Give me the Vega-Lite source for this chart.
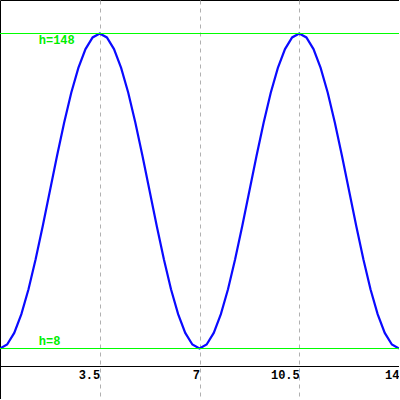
{
  "$schema": "https://vega.github.io/schema/vega-lite/v6.json",
  "width": 399,
  "height": 399,
  "padding": 0,
  "autosize": {"type": "none"},
  "background": "white",
  "config": {"view": {"stroke": "black", "strokeWidth": 1}},
  "datasets": {
    "curve": [
      {"t": 0, "h": 8}, {"t": 0.25, "h": 9.76}, {"t": 0.5, "h": 14.93}, {"t": 0.75, "h": 23.27},
      {"t": 1, "h": 34.36}, {"t": 1.25, "h": 47.63}, {"t": 1.5, "h": 62.42}, {"t": 1.75, "h": 78},
      {"t": 2, "h": 93.58}, {"t": 2.25, "h": 108.37}, {"t": 2.5, "h": 121.64}, {"t": 2.75, "h": 132.73},
      {"t": 3, "h": 141.07}, {"t": 3.25, "h": 146.25}, {"t": 3.5, "h": 148}, {"t": 3.75, "h": 146.25},
      {"t": 4, "h": 141.07}, {"t": 4.25, "h": 132.73}, {"t": 4.5, "h": 121.64}, {"t": 4.75, "h": 108.37},
      {"t": 5, "h": 93.58}, {"t": 5.25, "h": 78}, {"t": 5.5, "h": 62.42}, {"t": 5.75, "h": 47.63},
      {"t": 6, "h": 34.36}, {"t": 6.25, "h": 23.27}, {"t": 6.5, "h": 14.93}, {"t": 6.75, "h": 9.76},
      {"t": 7, "h": 8}, {"t": 7.25, "h": 9.76}, {"t": 7.5, "h": 14.93}, {"t": 7.75, "h": 23.27},
      {"t": 8, "h": 34.36}, {"t": 8.25, "h": 47.63}, {"t": 8.5, "h": 62.42}, {"t": 8.75, "h": 78},
      {"t": 9, "h": 93.58}, {"t": 9.25, "h": 108.37}, {"t": 9.5, "h": 121.64}, {"t": 9.75, "h": 132.73},
      {"t": 10, "h": 141.07}, {"t": 10.25, "h": 146.25}, {"t": 10.5, "h": 148}, {"t": 10.75, "h": 146.25},
      {"t": 11, "h": 141.07}, {"t": 11.25, "h": 132.73}, {"t": 11.5, "h": 121.64}, {"t": 11.75, "h": 108.37},
      {"t": 12, "h": 93.58}, {"t": 12.25, "h": 78}, {"t": 12.5, "h": 62.42}, {"t": 12.75, "h": 47.63},
      {"t": 13, "h": 34.36}, {"t": 13.25, "h": 23.27}, {"t": 13.5, "h": 14.93}, {"t": 13.75, "h": 9.76},
      {"t": 14, "h": 8}
    ],
    "levels": [
      {"h": 148, "label": "h=148"},
      {"h": 8, "label": "h=8"}
    ]
  },
  "layer": [
    {
      "data": {"name": "curve"},
      "mark": {"type": "line", "color": "#0a0aff", "strokeWidth": 2.2, "clip": true},
      "encoding": {
        "x": {
          "field": "t", "type": "quantitative",
          "scale": {"domain": [0, 14], "nice": false, "zero": false},
          "axis": {
            "title": null,
            "values": [3.5, 7, 10.5, 14],
            "format": ".2~f",
            "orient": "bottom",
            "offset": -33,
            "domainColor": "black",
            "domainWidth": 1,
            "ticks": false,
            "tickSize": 0,
            "labelFont": "Liberation Mono",
            "labelFontWeight": "bold",
            "labelFontSize": 12,
            "labelColor": "black",
            "labelAlign": "right",
            "labelBaseline": "alphabetic",
            "labelPadding": 12,
            "labelDx": -2,
            "labelFlush": false,
            "labelOverlap": false,
            "grid": true,
            "gridColor": "#b0b0b0",
            "gridDash": [4, 4],
            "gridWidth": 1,
            "gridOpacity": 1
          }
        },
        "y": {
          "field": "h", "type": "quantitative",
          "scale": {"domain": [-14.444, 162.889], "nice": false, "zero": false},
          "axis": null
        }
      }
    },
    {
      "data": {"name": "levels"},
      "mark": {"type": "rule", "color": "#00ff00", "strokeWidth": 1},
      "encoding": {
        "y": {"field": "h", "type": "quantitative"}
      }
    },
    {
      "data": {"name": "levels"},
      "transform": [{"filter": "datum.h == 148"}],
      "mark": {"type": "text", "color": "#00ee00", "font": "Liberation Mono", "fontWeight": "bold", "fontSize": 12, "align": "left", "baseline": "top", "dy": 1},
      "encoding": {
        "x": {"datum": 1.36, "type": "quantitative"},
        "y": {"field": "h", "type": "quantitative"},
        "text": {"field": "label"}
      }
    },
    {
      "data": {"name": "levels"},
      "transform": [{"filter": "datum.h == 8"}],
      "mark": {"type": "text", "color": "#00ee00", "font": "Liberation Mono", "fontWeight": "bold", "fontSize": 12, "align": "left", "baseline": "alphabetic", "dy": -4},
      "encoding": {
        "x": {"datum": 1.36, "type": "quantitative"},
        "y": {"field": "h", "type": "quantitative"},
        "text": {"field": "label"}
      }
    }
  ]
}
